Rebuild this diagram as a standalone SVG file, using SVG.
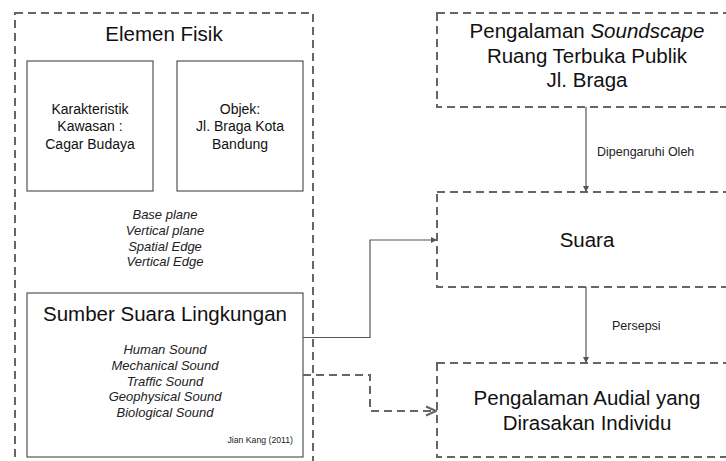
<svg xmlns="http://www.w3.org/2000/svg" width="726" height="461" viewBox="0 0 726 461">
<style>
text{font-family:"Liberation Sans",Arial,sans-serif;fill:#111;text-anchor:middle}
.dash{fill:none;stroke:#666;stroke-width:2;stroke-dasharray:8,5}
.solid{fill:#fff;stroke:#333;stroke-width:1}
.big{font-size:20.5px}
.mid{font-size:14px}
.it{font-size:13px;font-style:italic;fill:#222}
.sm{font-size:12.5px;text-anchor:start;fill:#222}
.conn{fill:none;stroke:#555;stroke-width:1.2}
.conn2{fill:none;stroke:#666;stroke-width:2;stroke-dasharray:8,5}
</style>
<defs>
<marker id="tri" viewBox="0 0 10 10" refX="10" refY="5" markerWidth="6" markerHeight="6" markerUnits="userSpaceOnUse" orient="auto">
<path d="M0,0 L10,5 L0,10 z" fill="#555"/>
</marker>
<marker id="chev" viewBox="0 0 12 12" refX="11" refY="6" markerWidth="12" markerHeight="12" markerUnits="userSpaceOnUse" orient="auto">
<path d="M1,1.5 L11,6 L1,10.5" fill="none" stroke="#666" stroke-width="2"/>
</marker>
</defs>
<rect width="726" height="461" fill="#fff"/>
<g id="elemen-fisik">
<rect class="dash" x="15" y="13" width="298" height="470"/>
<text class="big" x="164" y="41">Elemen Fisik</text>
<text class="it" x="165" y="219">Base plane</text>
<text class="it" x="165" y="235">Vertical plane</text>
<text class="it" x="165" y="251">Spatial Edge</text>
<text class="it" x="165" y="266">Vertical Edge</text>
</g>
<g id="karakteristik">
<rect class="solid" x="27" y="61" width="126" height="130"/>
<text class="mid" x="90" y="114">Karakteristik</text>
<text class="mid" x="90" y="131">Kawasan :</text>
<text class="mid" x="90" y="148.5">Cagar Budaya</text>
</g>
<g id="objek">
<rect class="solid" x="177" y="61" width="126" height="130"/>
<text class="mid" x="240" y="114">Objek:</text>
<text class="mid" x="240" y="131">Jl. Braga Kota</text>
<text class="mid" x="240" y="148.5">Bandung</text>
</g>
<g id="sumber-suara">
<rect class="solid" x="27" y="293" width="276" height="164"/>
<text class="big" x="165" y="321">Sumber Suara Lingkungan</text>
<text class="it" x="165" y="354">Human Sound</text>
<text class="it" x="165" y="370">Mechanical Sound</text>
<text class="it" x="165" y="386">Traffic Sound</text>
<text class="it" x="165" y="401">Geophysical Sound</text>
<text class="it" x="165" y="417">Biological Sound</text>
<text x="293" y="443" style="font-size:8.7px;text-anchor:end;fill:#222">Jian Kang (2011)</text>
</g>
<g id="pengalaman-soundscape">
<rect class="dash" x="437" y="13" width="300" height="94"/>
<text class="big" x="587" y="38">Pengalaman <tspan font-style="italic">Soundscape</tspan></text>
<text class="big" x="587" y="63">Ruang Terbuka Publik</text>
<text class="big" x="587" y="87">Jl. Braga</text>
</g>
<g id="suara">
<rect class="dash" x="437" y="192" width="300" height="95"/>
<text class="big" x="587" y="247">Suara</text>
</g>
<g id="pengalaman-audial">
<rect class="dash" x="437" y="363" width="300" height="94"/>
<text class="big" x="587" y="405">Pengalaman Audial yang</text>
<text class="big" x="587" y="430">Dirasakan Individu</text>
</g>
<g id="connectors">
<path class="conn" d="M586,107 V192" marker-end="url(#tri)"/>
<text class="sm" x="597" y="156">Dipengaruhi Oleh</text>
<path class="conn" d="M586,287 V363" marker-end="url(#tri)"/>
<text class="sm" x="612" y="330">Persepsi</text>
<path class="conn" d="M303,337.5 H370 V240 H437" marker-end="url(#tri)"/>
<path class="conn2" d="M303,375 H370 V411 H436" marker-end="url(#chev)"/>
</g>
</svg>
